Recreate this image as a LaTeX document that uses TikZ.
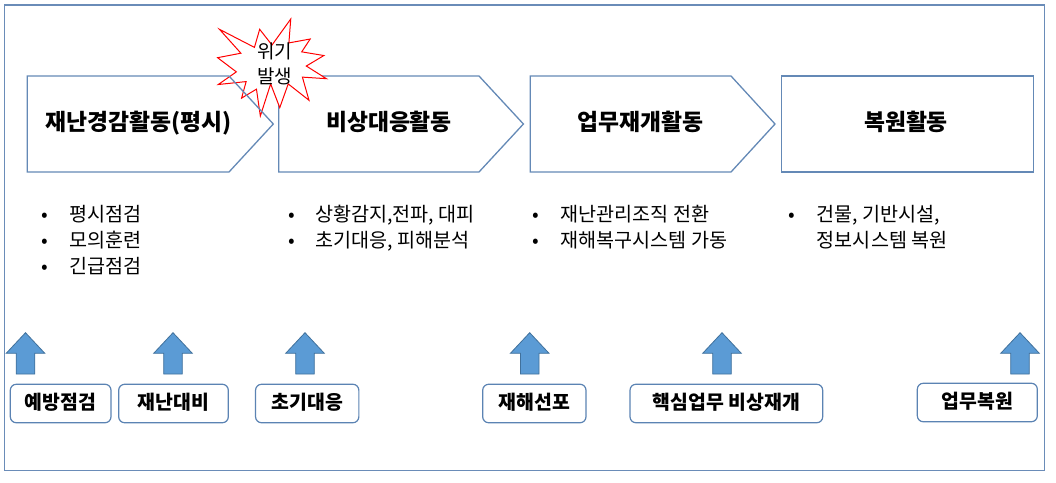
\documentclass[tikz,border=0pt]{standalone}
\usepackage{fontspec}
\setmainfont{Noto Sans CJK KR}
\definecolor{boxblue}{HTML}{6489B6}
\definecolor{frameblue}{HTML}{6A8CB8}
\definecolor{arrowfill}{HTML}{5B9BD5}
\definecolor{arrowline}{HTML}{41719C}
\definecolor{tagblue}{HTML}{5B83B3}
\begin{document}
\begin{tikzpicture}[x=1pt,y=-1pt,
  shapeline/.style={draw=boxblue,line width=1.3pt,line join=miter},
  frameline/.style={draw=frameblue,line width=1.5pt},
  vc/.style={inner sep=0pt,text height=1.17em,text depth=0.05em},
  title/.style={font=\fontsize{22.8}{26}\selectfont\bfseries,vc,anchor=center},
  item/.style={font=\fontsize{19.6}{24}\selectfont,vc,anchor=west},
  bul/.style={font=\fontsize{19.6}{24}\selectfont,vc,anchor=center},
  tag/.style={draw=tagblue,line width=1.2pt,rounded corners=6pt,fill=white,
    font=\fontsize{19.4}{23}\selectfont\bfseries,vc,minimum height=38.5pt},
  arrowshape/.style={fill=arrowfill,draw=arrowline,line width=0.8pt,line join=miter},
  uparrow/.pic={\path[arrowshape] (0,0) -- (19.3,20.6) -- (9.3,20.6) -- (9.3,41.3)
      -- (-9.3,41.3) -- (-9.3,20.6) -- (-19.3,20.6) -- cycle;},
  burst/.style={fill=white,draw=red,line width=1pt,line join=miter},
  bursttext/.style={font=\fontsize{19}{25}\selectfont,vc}
]
\useasboundingbox (0,0) rectangle (1056,482);
% outer frame
\draw[frameline] (4.7,5.2) rectangle (1044.3,470.7);

% process boxes (box 2 under the burst, box 1 above it)
\draw[shapeline] (278.7,76) -- (479,76) -- (523.4,124) -- (479,172) -- (278.7,172) -- cycle;
\draw[shapeline] (530.3,76) -- (731,76) -- (775,124) -- (731,172) -- (530.3,172) -- cycle;
\draw[shapeline] (781.3,76) rectangle (1033.3,172);

% burst "위기 발생"
\begin{scope}[shift={(217.6,19)},xscale=0.5037,yscale=0.44907]
\path[burst] (108,58) -- (83.52,22.95) -- (73.12,63.20) -- (3.70,22.95) -- (46.27,76.17)
 -- (0,86.15) -- (37.22,117.75) -- (1.35,145.87) -- (56.67,139.37) -- (47.62,176.17)
 -- (77.15,156.27) -- (84.85,216) -- (105.32,144.57) -- (123.42,197.37) -- (140.20,144.57)
 -- (181.45,180.95) -- (168.37,129.42) -- (216,132.90) -- (176.07,104.75) -- (210.97,81.37)
 -- (167.02,73.15) -- (183.80,44.57) -- (141.55,53.25) -- (145.22,0) -- cycle;
\end{scope}
\node[bursttext] (crisisA) at (274.7,52.5) {위기};
\node[bursttext] (crisisB) at (274.7,77.5) {발생};

\draw[shapeline] (27.3,76) -- (229,76) -- (273.3,124) -- (229,172) -- (27.3,172) -- cycle;

% titles
\node[title] (t1) at (139,124.5) {재난경감활동(평시)};
\node[title] (t2) at (389,124.5) {비상대응활동};
\node[title] (t3) at (640.7,124.5) {업무재개활동};
\node[title] (t4) at (906,124.5) {복원활동};

% bullet lists
\node[bul] (b11) at (45,216) {•};
\node[item] (l11) at (69,216) {평시점검};
\node[bul] (b12) at (45,242.3) {•};
\node[item] (l12) at (69,242.3) {모의훈련};
\node[bul] (b13) at (45,268) {•};
\node[item] (l13) at (69,268) {긴급점검};

\node[bul] (b21) at (292,216) {•};
\node[item] (l21) at (315,216) {상황감지,전파, 대피};
\node[bul] (b22) at (292,242.3) {•};
\node[item] (l22) at (315,242.3) {초기대응, 피해분석};

\node[bul] (b31) at (535.4,216) {•};
\node[item] (l31) at (560.3,216) {재난관리조직 전환};
\node[bul] (b32) at (535.4,242.3) {•};
\node[item] (l32) at (560.3,242.3) {재해복구시스템 가동};

\node[bul] (b41) at (791.8,216) {•};
\node[item] (l41) at (816.7,216) {건물, 기반시설,};
\node[item] (l42) at (816.7,242.3) {정보시스템 복원};

% up arrows
\pic at (25.5,332.7) {uparrow};
\pic at (173,332.7) {uparrow};
\pic at (305,332.7) {uparrow};
\pic at (529.7,332.7) {uparrow};
\pic at (722,332.7) {uparrow};
\pic at (1020,332.7) {uparrow};

% tags
\node[tag,minimum width=100.7pt] (g1) at (60.65,403.5) {예방점검};
\node[tag,minimum width=109.6pt] (g2) at (173.5,403.5) {재난대비};
\node[tag,minimum width=103.3pt] (g3) at (307.2,403.5) {초기대응};
\node[tag,minimum width=103.3pt] (g4) at (534.35,403.5) {재해선포};
\node[tag,minimum width=192.7pt] (g5) at (726.35,403.5) {핵심업무 비상재개};
\node[tag,minimum width=120pt] (g6) at (977.3,402.5) {업무복원};
\end{tikzpicture}
\end{document}
